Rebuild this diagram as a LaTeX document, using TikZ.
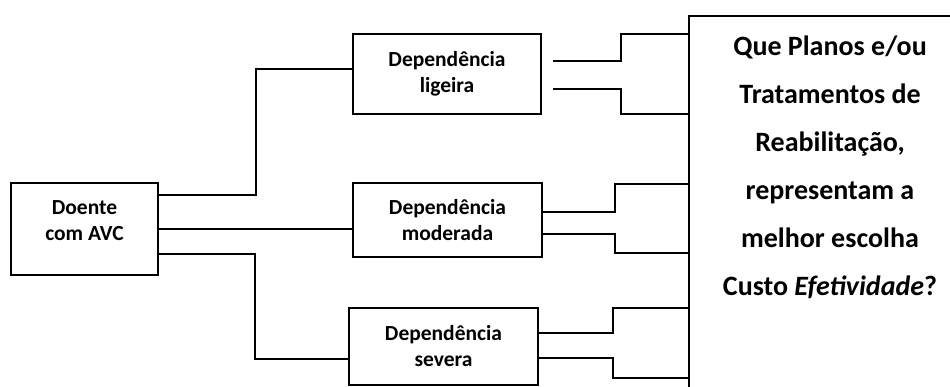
\documentclass[tikz,border=0pt]{standalone}
\usepackage{fontspec}
\setmainfont{Carlito}
\begin{document}
\begin{tikzpicture}[x=1pt,y=-1pt,
  boxfont/.style={font=\fontsize{21.5}{26}\selectfont\bfseries},
  box/.style={draw,line width=1.2pt,inner sep=0pt,align=center,boxfont},
  wire/.style={line width=1.2pt}]
\useasboundingbox (0,0) rectangle (950,387);
\clip (0,0) rectangle (950,387);
% boxes
\node[box,minimum width=147pt,minimum height=92pt] (doente) at (84.5,229) {};
\node[boxfont,align=center] (dtext) at ([yshift=8pt]doente.center) {Doente\\com AVC};
\node[box,minimum width=188pt,minimum height=80pt] (lig) at (447,74) {Dependência\\ligeira};
\node[box,minimum width=189pt,minimum height=74pt] (mod) at (447.5,220) {Dependência\\moderada};
\node[box,minimum width=189pt,minimum height=77pt] (sev) at (443.5,346.5) {Dependência\\severa};
\node[draw,line width=1.8pt,minimum width=300pt,minimum height=420pt,anchor=north west] (qbox) at (688,15) {};
\node[font=\fontsize{28}{48}\selectfont\bfseries,align=center] (qtext) at (830,167.5)
  {Que Planos e/ou\\Tratamentos de\\Reabilitação,\\representam a\\melhor escolha\\Custo \textit{Efetividade}?};
% left connectors
\draw[wire] (doente.east |- 0,195) -- (256,195) |- (lig.west |- 0,69);
\draw[wire] (doente.east) -- (mod.west |- doente.east);
\draw[wire] (doente.east |- 0,254) -- (255,254) |- (sev.west |- 0,359);
% right connectors
\coordinate (l1) at (553,61);
\coordinate (l2) at (553,89);
\draw[wire] (l1) -- (621,61) |- (qbox.west |- 0,34);
\draw[wire] (l2) -- (621,89) |- (qbox.west |- 0,114);
\draw[wire] (mod.east |- 0,212) -- (615,212) |- (qbox.west |- 0,184);
\draw[wire] (mod.east |- 0,234) -- (615,234) |- (qbox.west |- 0,253);
\draw[wire] (sev.east |- 0,333) -- (613,333) |- (qbox.west |- 0,308);
\draw[wire] (sev.east |- 0,358) -- (613,358) |- (qbox.west |- 0,378);
\end{tikzpicture}
\end{document}
